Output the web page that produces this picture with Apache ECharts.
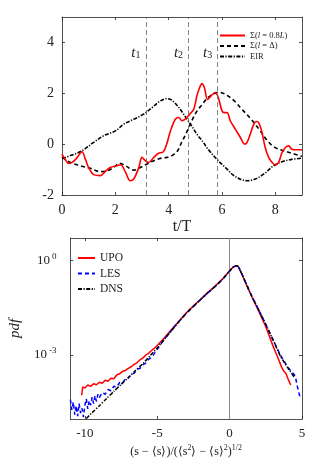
<!DOCTYPE html>
<html>
<head>
<meta charset="utf-8">
<script src="https://cdn.jsdelivr.net/npm/echarts@6/dist/echarts.min.js"></script>
<style>
html, body { margin: 0; padding: 0; background: #fff; }
#main { width: 332px; height: 462px; }
</style>
</head>
<body>
<div id="main"></div>
<script>
// top panel: time series over t/T
var tRed = [0, 0.12, 0.25, 0.38, 0.55, 0.75, 0.88, 1.0, 1.19, 1.44, 1.62, 1.81, 2.06, 2.2, 2.38, 2.56, 2.69, 2.88, 3.0, 3.12, 3.25, 3.44, 3.62, 3.8, 3.94, 4.06, 4.25, 4.38, 4.5, 4.62, 4.79, 4.94, 5.06, 5.16, 5.25, 5.34, 5.46, 5.59, 5.75, 5.88, 6.0, 6.09, 6.19, 6.31, 6.5, 6.69, 6.85, 6.94, 7.06, 7.19, 7.29, 7.39, 7.5, 7.62, 7.75, 7.88, 8.0, 8.12, 8.25, 8.38, 8.5, 8.62, 8.75, 8.88, 9.0];
var sigma08L = [-0.39, -0.6, -0.76, -0.72, -0.55, -0.3, -0.6, -0.92, -1.2, -1.24, -1.08, -0.92, -0.85, -0.81, -1.1, -1.44, -1.37, -0.92, -0.52, -0.65, -0.72, -0.52, -0.36, -0.3, 0.05, 0.5, 0.98, 1.05, 0.92, 0.98, 1.18, 1.37, 1.9, 2.22, 2.38, 2.22, 1.76, 1.9, 2.03, 1.76, 1.31, 1.24, 1.24, 0.92, 0.59, 0.26, 0.0, 0.07, 0.39, 0.78, 0.89, 0.82, 0.46, -0.13, -0.52, -0.72, -0.82, -0.72, -0.33, -0.13, -0.07, -0.2, -0.22, -0.22, -0.22];

var tDash = [0, 0.31, 0.69, 1.06, 1.44, 1.69, 1.94, 2.16, 2.38, 2.69, 2.94, 3.19, 3.44, 3.69, 3.94, 4.12, 4.31, 4.5, 4.69, 4.88, 5.06, 5.25, 5.44, 5.69, 5.88, 6.12, 6.44, 6.75, 7.06, 7.38, 7.69, 7.94, 8.25, 8.56, 9.0];
var sigmaDelta = [-0.52, -0.72, -0.85, -0.95, -1.08, -1.05, -0.92, -0.75, -0.85, -1.02, -0.92, -0.78, -0.65, -0.56, -0.52, -0.45, -0.3, 0.1, 0.5, 0.95, 1.3, 1.55, 1.8, 1.98, 2.04, 1.96, 1.72, 1.37, 1.02, 0.6, 0.15, -0.1, -0.24, -0.34, -0.48];

var tEir = [0, 0.38, 0.75, 1.19, 1.56, 2.0, 2.31, 2.69, 3.06, 3.38, 3.69, 3.94, 4.12, 4.38, 4.69, 4.86, 5.06, 5.3, 5.44, 5.81, 6.19, 6.42, 6.69, 6.94, 7.25, 7.56, 7.94, 8.25, 8.62, 9.0];
var eir = [-0.56, -0.43, -0.26, 0.07, 0.33, 0.52, 0.78, 0.98, 1.18, 1.44, 1.7, 1.79, 1.73, 1.44, 0.98, 0.72, 0.39, 0.07, -0.15, -0.6, -0.98, -1.22, -1.38, -1.44, -1.37, -1.18, -0.85, -0.69, -0.6, -0.55];

var eventTimes = [3.15, 4.75, 5.84];
var eventNames = ['1', '2', '3'];
var topXTicks = [0, 2, 4, 6, 8];
var topYTicks = [-2, 0, 2, 4];

// bottom panel: pdf of normalised s
var sUpo = [-10.22, -10.15, -10.0, -9.8, -9.6, -9.4, -9.2, -9.0, -8.8, -8.6, -8.4, -8.2, -8.0, -7.8, -7.6, -7.4, -7.2, -7.0, -6.8, -6.6, -6.4, -6.2, -6.0, -5.8, -5.6, -5.4, -5.2, -5.0, -4.5, -4.0, -3.5, -3.0, -2.5, -2.0, -1.5, -1.0, -0.5, 0, 0.25, 0.45, 0.6, 0.8, 1.0, 1.5, 2.0, 2.5, 3.0, 3.3, 3.6, 3.75, 3.9, 4.05, 4.22];
var pdfUpo = [5.2e-5, 9.5e-5, 8.9e-5, 1.1e-4, 1.0e-4, 1.2e-4, 1.12e-4, 1.35e-4, 1.26e-4, 1.55e-4, 1.45e-4, 1.8e-4, 1.74e-4, 2.3e-4, 2.5e-4, 3.0e-4, 3.2e-4, 3.7e-4, 4.2e-4, 5.0e-4, 5.6e-4, 6.9e-4, 7.9e-4, 9.8e-4, 1.12e-3, 1.38e-3, 1.62e-3, 2.0e-3, 3.5e-3, 6.6e-3, 0.0117, 0.0214, 0.0363, 0.059, 0.098, 0.155, 0.257, 0.48, 0.63, 0.69, 0.63, 0.41, 0.25, 0.076, 0.025, 0.0079, 0.0019, 8.9e-4, 4.0e-4, 3.0e-4, 2.5e-4, 1.66e-4, 1.1e-4];

var sLes = [-11.0, -10.9, -10.8, -10.7, -10.6, -10.5, -10.4, -10.3, -10.2, -10.1, -10.0, -9.9, -9.8, -9.7, -9.6, -9.5, -9.4, -9.3, -9.2, -9.1, -9.0, -8.8, -8.6, -8.4, -8.2, -8.0, -7.8, -7.6, -7.4, -7.2, -7.0, -6.8, -6.6, -6.4, -6.2, -6.0, -5.8, -5.6, -5.4, -5.2, -5.0, -4.5, -4.0, -3.5, -3.0, -2.5, -2.0, -1.5, -1.0, -0.5, 0, 0.25, 0.45, 0.6, 0.8, 1.0, 1.5, 2.0, 2.5, 3.0, 3.5, 4.0, 4.3, 4.45, 4.55, 4.65, 4.75, 4.85];
var pdfLes = [3.8e-5, 1.78e-5, 3.16e-5, 1.26e-5, 2.4e-5, 1.12e-5, 2.8e-5, 1.41e-5, 2.0e-5, 1.05e-5, 2.5e-5, 4.0e-5, 1.9e-5, 3.5e-5, 2.5e-5, 4.5e-5, 2.8e-5, 5.0e-5, 3.3e-5, 5.6e-5, 4.4e-5, 6.3e-5, 5.6e-5, 7.9e-5, 7.2e-5, 1.0e-4, 9.5e-5, 1.32e-4, 1.26e-4, 1.74e-4, 1.82e-4, 2.4e-4, 2.6e-4, 3.5e-4, 3.7e-4, 4.8e-4, 5.5e-4, 7.2e-4, 8.3e-4, 1.1e-3, 1.5e-3, 3.2e-3, 6.2e-3, 0.0115, 0.021, 0.035, 0.058, 0.095, 0.151, 0.25, 0.47, 0.62, 0.69, 0.65, 0.42, 0.26, 0.079, 0.0275, 0.0093, 0.003, 0.001, 4.2e-4, 2.8e-4, 2.4e-4, 2.0e-4, 1.12e-4, 7.1e-5, 4.8e-5];

var sDns = [-9.9, -9.5, -9, -8.5, -8, -7.5, -7, -6.5, -6, -5.5, -5, -4.5, -4, -3.5, -3, -2.5, -2, -1.5, -1, -0.5, 0, 0.25, 0.45, 0.6, 0.8, 1.0, 1.5, 2.0, 2.5, 3.0, 3.5, 4.0, 4.45];
var pdfDns = [9.5e-6, 1.45e-5, 2.4e-5, 4.1e-5, 6.9e-5, 1.15e-4, 1.9e-4, 3.2e-4, 5.2e-4, 9.3e-4, 1.66e-3, 3.2e-3, 6.0e-3, 0.0115, 0.021, 0.035, 0.058, 0.095, 0.151, 0.25, 0.47, 0.62, 0.69, 0.65, 0.42, 0.26, 0.079, 0.0275, 0.0093, 0.003, 0.00093, 0.0004, 0.0002];

var botXTicks = [-10, -5, 0, 5];
var botYTicks = [-3, 0];   // decades shown on the log axis

var FONT = 'Liberation Serif';
var AX = '#262626';

function pairs(xs, ys) {
  return xs.map(function (x, i) { return [x, ys[i]]; });
}
function logPairs(xs, ys) {
  return xs.map(function (x, i) { return [x, Math.log10(ys[i])]; });
}

function boxAxis(grid, pos, min, max, ticks, labelOpt) {
  var ax = {
    type: 'value', gridIndex: grid, position: pos, min: min, max: max,
    axisLine: { show: true, onZero: false, lineStyle: { color: AX, width: 0.8 } },
    axisTick: { show: true, inside: true, length: 3, customValues: ticks, lineStyle: { color: AX, width: 0.8 } },
    axisLabel: { show: false },
    splitLine: { show: false }
  };
  if (labelOpt) {
    ax.axisLabel = Object.assign({ show: true, customValues: ticks, color: '#222', fontFamily: FONT }, labelOpt);
  }
  return ax;
}

var mychart = echarts.init(document.getElementById('main'));

var xAxes = [
  boxAxis(0, 'bottom', 0, 9, topXTicks, { fontSize: 14, margin: 8 }),
  boxAxis(0, 'top', 0, 9, topXTicks),
  boxAxis(1, 'bottom', -11, 5, botXTicks, { fontSize: 13, margin: 8 }),
  boxAxis(1, 'top', -11, 5, botXTicks)
];
xAxes[0].name = 't/T';
xAxes[0].nameLocation = 'middle';
xAxes[0].nameGap = 24;
xAxes[0].nameTextStyle = { fontFamily: FONT, fontSize: 16, color: '#222' };
xAxes[2].name = '{n|(s − ⟨s⟩)/(⟨s}{p|2}{n|⟩ − ⟨s⟩}{p|2}{n|)}{p|1/2}';
xAxes[2].nameLocation = 'middle';
xAxes[2].nameGap = 25;
xAxes[2].nameTextStyle = {
  fontFamily: FONT, color: '#222',
  rich: {
    n: { fontFamily: FONT, fontSize: 12, color: '#222' },
    p: { fontFamily: FONT, fontSize: 8, color: '#222', padding: [0, 0, 7, 0] }
  }
};

var yAxes = [
  boxAxis(0, 'left', -2, 5, topYTicks, { fontSize: 14, margin: 8 }),
  boxAxis(0, 'right', -2, 5, topYTicks),
  boxAxis(1, 'left', -5.04, 0.72, botYTicks, {
    margin: 14,
    formatter: function (v) { return '{b|10}{s|' + v + '}'; },
    rich: {
      b: { fontFamily: FONT, fontSize: 13, color: '#222' },
      s: { fontFamily: FONT, fontSize: 9, color: '#222', padding: [0, 0, 8, 2] }
    }
  }),
  boxAxis(1, 'right', -5.04, 0.72, botYTicks)
];
yAxes[2].name = 'pdf';
yAxes[2].nameLocation = 'middle';
yAxes[2].nameRotate = 90;
yAxes[2].nameGap = 40;
yAxes[2].nameTextStyle = { fontFamily: FONT, fontSize: 15, fontStyle: 'italic', color: '#222' };

var tLabelRich = {
  i: { fontFamily: FONT, fontSize: 15, fontStyle: 'italic', color: '#222' },
  s: { fontFamily: FONT, fontSize: 10, color: '#222', padding: [6, 0, 0, 0] }
};

var option = {
  animation: false,
  backgroundColor: '#fff',
  grid: [
    { left: 62, top: 17, width: 240, height: 178 },
    { left: 62, top: 238, width: 240, height: 181 }
  ],
  xAxis: xAxes,
  yAxis: yAxes,
  legend: [
    {
      data: ['sig08', 'sigD', 'EIR'],
      orient: 'vertical', left: 214, top: 26,
      itemWidth: 25, itemHeight: 10, itemGap: 1.5,
      itemStyle: { opacity: 0 },
      textStyle: {
        fontFamily: FONT, fontSize: 8.5, color: '#222',
        rich: {
          n: { fontFamily: FONT, fontSize: 8.5, color: '#222' },
          i: { fontFamily: FONT, fontSize: 8.5, fontStyle: 'italic', color: '#222' }
        }
      },
      formatter: function (name) {
        if (name === 'sig08') return '{n|Σ(}{i|l}{n| = 0.8}{i|L}{n|)}';
        if (name === 'sigD') return '{n|Σ(}{i|l}{n| = Δ)}';
        return '{n|EIR}';
      }
    },
    {
      data: ['UPO', 'LES', 'DNS'],
      orient: 'vertical', left: 72, top: 247,
      itemWidth: 17, itemHeight: 12, itemGap: 3.5,
      itemStyle: { opacity: 0 },
      textStyle: { fontFamily: FONT, fontSize: 11.5, color: '#222' }
    }
  ],
  series: [
    {
      name: 'sig08', type: 'line', xAxisIndex: 0, yAxisIndex: 0,
      data: pairs(tRed, sigma08L), showSymbol: false, symbol: 'none', smooth: 0.35,
      lineStyle: { color: '#ff0000', width: 1.6 }, itemStyle: { color: '#ff0000' },
      z: 4,
      markLine: {
        silent: true, symbol: ['none', 'none'], label: { show: false },
        lineStyle: { color: '#666', type: [5, 3], width: 0.8 },
        data: eventTimes.map(function (t) { return { xAxis: t }; })
      }
    },
    {
      name: 'sigD', type: 'line', xAxisIndex: 0, yAxisIndex: 0,
      data: pairs(tDash, sigmaDelta), showSymbol: false, symbol: 'none', smooth: 0.35,
      lineStyle: { color: '#000', width: 1.6, type: [4, 3] }, itemStyle: { color: '#000' },
      z: 3,
      markPoint: {
        symbol: 'rect', symbolSize: 0, silent: true,
        label: { show: true, position: 'inside', color: '#222', rich: tLabelRich },
        data: eventTimes.map(function (t, i) {
          return { coord: [t - 0.38, 3.6], value: i, label: { formatter: '{i|t}{s|' + eventNames[i] + '}' } };
        })
      }
    },
    {
      name: 'EIR', type: 'line', xAxisIndex: 0, yAxisIndex: 0,
      data: pairs(tEir, eir), showSymbol: false, symbol: 'none', smooth: 0.35,
      lineStyle: { color: '#000', width: 1.6, type: [4, 1.5, 1.2, 1.5] }, itemStyle: { color: '#000' },
      z: 3
    },
    {
      name: 'UPO', type: 'line', xAxisIndex: 2, yAxisIndex: 2,
      data: logPairs(sUpo, pdfUpo), showSymbol: false, symbol: 'none',
      lineStyle: { color: '#ff0000', width: 1.5 }, itemStyle: { color: '#ff0000' },
      z: 3,
      markLine: {
        silent: true, symbol: ['none', 'none'], label: { show: false },
        lineStyle: { color: '#888', type: 'solid', width: 1 },
        data: [{ xAxis: 0 }]
      }
    },
    {
      name: 'LES', type: 'line', xAxisIndex: 2, yAxisIndex: 2,
      data: logPairs(sLes, pdfLes), showSymbol: false, symbol: 'none',
      lineStyle: { color: '#0000ff', width: 1.5, type: [4, 3] }, itemStyle: { color: '#0000ff' },
      z: 4
    },
    {
      name: 'DNS', type: 'line', xAxisIndex: 2, yAxisIndex: 2,
      data: logPairs(sDns, pdfDns), showSymbol: false, symbol: 'none', smooth: 0.2,
      lineStyle: { color: '#000', width: 1.5, type: [4, 1.5, 1.2, 1.5] }, itemStyle: { color: '#000' },
      z: 5
    }
  ]
};

mychart.setOption(option);
</script>
</body>
</html>
